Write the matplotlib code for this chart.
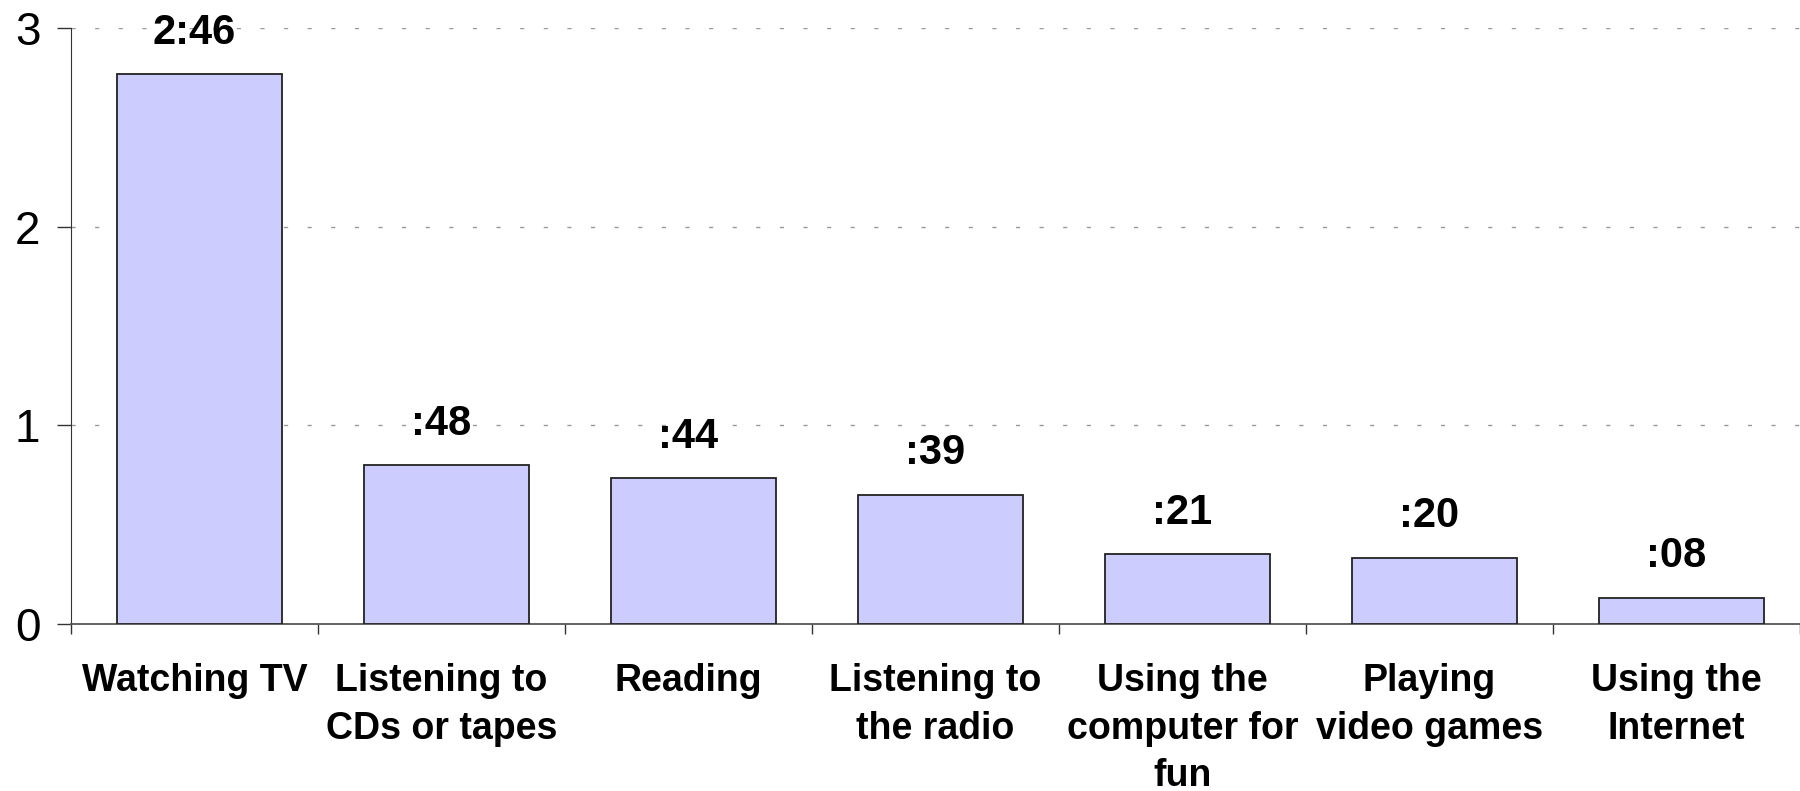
import numpy as np
import matplotlib.pyplot as plt

# dados (horas por dia)
categorias = ["Watching TV", "Listening to\nCDs or tapes", "Reading", "Listening to\nthe radio",
              "Using the\ncomputer for\nfun", "Playing\nvideo games", "Using the\nInternet"]
horas = [2 + 46/60, 48/60, 44/60, 39/60, 21/60, 20/60, 8/60]
rotulos = ["2:46", ":48", ":44", ":39", ":21", ":20", ":08"]

fonte = ["Liberation Sans", "DejaVu Sans"]

fig = plt.figure(figsize=(18, 7.91), dpi=100)
ax = fig.add_axes([0.0394, 0.2111, 0.9606, 0.7535])

x = np.arange(len(categorias))
ax.bar(x + 0.02, horas, width=0.67, color="#CCCCFF", edgecolor="#222222", linewidth=1.3, zorder=3)

for xi, h, r in zip(x, horas, rotulos):
    ax.annotate(r, (xi, h), xytext=(0, 22), textcoords="offset points",
                ha="center", va="baseline", fontsize=30, fontweight="bold",
                family=fonte, zorder=4)

ax.set_xlim(-0.5, len(categorias) - 0.5)
ax.set_ylim(0, 3)
ax.set_yticks([0, 1, 2, 3])
ax.set_yticklabels(["0", "1", "2", "3"], fontsize=33, family=fonte)
ax.tick_params(axis="y", length=10, width=1, color="#333333", pad=12)

# grade tracejada
ax.yaxis.grid(True, linestyle=(0, (3, 14)), color="#999999", linewidth=1)
ax.set_axisbelow(True)

# ticks do eixo x nas divisas das categorias
ax.set_xticks(x)
ax.set_xticklabels([])
ax.tick_params(axis="x", which="major", length=0)
ax.set_xticks(np.arange(len(categorias) + 1) - 0.5, minor=True)
ax.tick_params(axis="x", which="minor", length=7, width=1, color="#333333", direction="out")

for xi, c in zip(x, categorias):
    ax.annotate(c, (xi, 0), xytext=(0, -28), textcoords="offset points",
                ha="center", va="top", fontsize=27, fontweight="bold",
                family=fonte, linespacing=1.42, annotation_clip=False)

ax.spines["top"].set_visible(False)
ax.spines["right"].set_visible(False)
ax.spines["left"].set_color("#333333")
ax.spines["bottom"].set_color("#555555")
ax.spines["bottom"].set_linewidth(1.3)

fig.savefig("out.png", dpi=100)
